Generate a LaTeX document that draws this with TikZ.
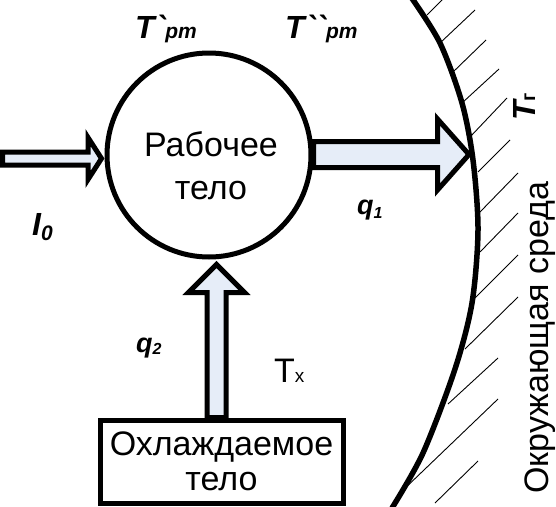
\documentclass[tikz,border=0pt]{standalone}
\usepackage{fontspec}
\setmainfont{Liberation Sans}
\usetikzlibrary{calc}
\definecolor{arrowfill}{RGB}{230,237,248}
\newcommand\myHarrow[5]{%
  \draw[blk] ($(#1)+(0,-#3)$) -- ($(#2)+(-#5,-#3)$) -- ($(#2)+(-#5,-#4)$) -- (#2)
    -- ($(#2)+(-#5,#4)$) -- ($(#2)+(-#5,#3)$) -- ($(#1)+(0,#3)$) -- cycle;}
\newcommand\myVarrow[5]{%
  \draw[blk] ($(#1)+(-#3,0)$) -- ($(#2)+(-#3,#5)$) -- ($(#2)+(-#4,#5)$) -- (#2)
    -- ($(#2)+(#4,#5)$) -- ($(#2)+(#3,#5)$) -- ($(#1)+(#3,0)$) -- cycle;}
\begin{document}
\begin{tikzpicture}[x=1pt,y=-1pt,
  blk/.style={draw=black, line width=5pt, fill=arrowfill, line join=miter, miter limit=10},
  lbl/.style={inner sep=0pt, font=\bfseries\itshape\fontsize{32}{32}\selectfont},
  qlbl/.style={inner sep=0pt, font=\bfseries\itshape\fontsize{27}{27}\selectfont},
  plain/.style={inner sep=0pt, font=\fontsize{34}{34}\selectfont},
  body/.style={inner sep=0pt, align=center, font=\fontsize{34}{43}\selectfont},
  hatch/.style={line width=0.9pt},
]
\useasboundingbox (0,0) rectangle (556,506);

% working body and cooled body
\node[circle, draw, line width=5pt, fill=white, minimum size=204pt, inner sep=0pt] (rt) at (209,155) {};
\node[body] (rtext) at (211,166) {Рабочее\\тело};
\node[draw, line width=5pt, fill=white, minimum width=243pt, minimum height=83pt, inner sep=0pt,
      align=center, font=\fontsize{34}{35}\selectfont] (box) at (221.5,461.5) {Охлаждаемое\\тело};

% connector end points
\coordinate (l0tail) at (2.5,158.5);
\coordinate (l0tip) at ($(rt.west)+(-3,3.5)$);
\coordinate (q1tail) at ($(rt.east)+(0,-0.5)$);
\coordinate (q1tip) at (469,154.5);
\coordinate (q2tail) at ($(box.north)+(-5,0)$);
\coordinate (q2tip) at ($(rt.south)+(7.5,5)$);

% block arrows
\myHarrow{l0tail}{l0tip}{6.5}{21}{13.5}
\myHarrow{q1tail}{q1tip}{13}{35.5}{31.5}
\myVarrow{q2tail}{q2tip}{9.5}{28}{28}

% environment boundary
\draw[line width=5.5pt] plot[smooth] coordinates {(411,-3) (440,43) (462,103) (473,160) (478,230) (472,303) (455,369) (423,453) (392,508)};
\foreach \xa/\ya/\xb/\yb in {427/15/445/-3, 440/43/475/10, 452/73/486/40, 462/103/499/69,
  470/137/507/98, 478/172/510/140, 480/212/518/173, 480/252/518/213, 475/298/518/255,
  465/349/518/297, 448/404/498/358, 400/493/498/399, 435/503/478/461}
  \draw[hatch] (\xa,\ya) -- (\xb,\yb);

% labels
\node[lbl, anchor=base west] (tpa) at (135,38) {T\textasciigrave{\fontsize{21}{21}\selectfont pm}};
\node[lbl, anchor=base west] (tpb) at (285,38) {T\textasciigrave\textasciigrave{\fontsize{21}{21}\selectfont pm}};
\node[lbl, anchor=base west] (i0) at (32,235) {I\raisebox{-5pt}{\fontsize{21}{21}\selectfont 0}};
\node[qlbl, anchor=base west] (q1) at (357,214) {q\raisebox{-4pt}{\fontsize{16}{16}\selectfont 1}};
\node[qlbl, anchor=base west] (q2) at (136,352) {q\raisebox{-2pt}{\fontsize{16}{16}\selectfont 2}};
\node[plain, anchor=base west] (tx) at (274,382) {T{\fontsize{19}{19}\selectfont х}};
\node[lbl, anchor=base west, rotate=90] (tg) at (535,121) {T{\upshape\fontsize{20}{20}\selectfont г}};
\node[plain, anchor=base west, rotate=90] (envtext) at (548,494) {Окружающая среда};
\end{tikzpicture}
\end{document}
